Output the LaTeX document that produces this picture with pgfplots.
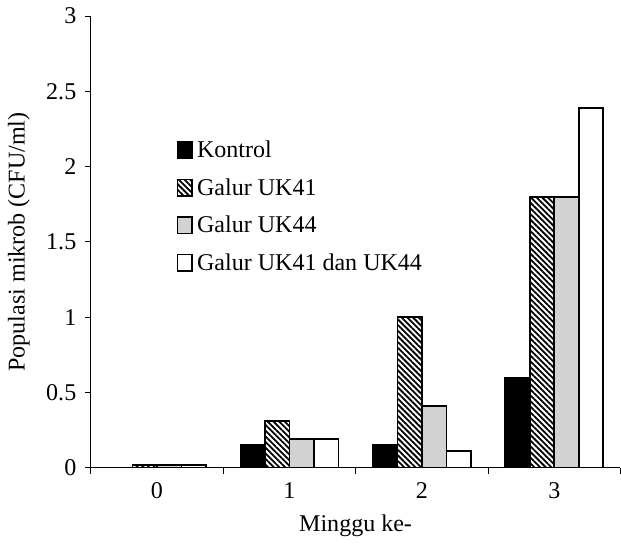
\documentclass[border=0pt]{standalone}
\usepackage{pgfplots}
\pgfplotsset{compat=1.18}
\usetikzlibrary{patterns.meta}
\usepackage{fontspec}
\setmainfont{Liberation Serif}
\begin{document}
\fontsize{12}{14}\selectfont
\begin{tikzpicture}
\begin{axis}[
  width=264.5pt, height=225.5pt, scale only axis,
  xmin=-0.5, xmax=3.5, ymin=0, ymax=3,
  axis x line*=bottom, axis y line*=left,
  axis line style={line width=0.5pt},
  ytick={0,0.5,1,1.5,2,2.5,3},
  xtick={-0.5,0.5,1.5,2.5,3.5}, xticklabels={0,1,2,3},
  x tick label as interval,
  tick align=outside, major tick length=3pt,
  tick style={black, line width=0.5pt},
  ybar=0pt, bar width=0.185,
  xlabel={Minggu ke-}, ylabel={Populasi mikrob (CFU/ml)},
  /pgf/number format/assume math mode=true,
  ticklabel style={font=\fontsize{12}{14}\selectfont},
  label style={font=\fontsize{12}{14}\selectfont},
  legend style={draw=none, fill=none, at={(0.15,0.742)}, anchor=north west,
    font=\fontsize{12}{14}\selectfont, row sep=4.6pt},
  legend cell align=left,
  legend image code/.code={\draw[#1] (0pt,-0.3em) rectangle (0.62em,0.38em);},
]
\addplot[draw=black, line width=0.8pt, fill=black] coordinates {(0,0) (1,0.15) (2,0.15) (3,0.6)};
\addplot[draw=black, line width=0.8pt, pattern={Lines[angle=-45,distance=2pt,line width=0.9pt]}, pattern color=black] coordinates {(0,0.02) (1,0.31) (2,1.0) (3,1.8)};
\addplot[draw=black, line width=0.8pt, fill=gray!35] coordinates {(0,0.02) (1,0.19) (2,0.41) (3,1.8)};
\addplot[draw=black, line width=0.8pt, fill=white] coordinates {(0,0.02) (1,0.19) (2,0.11) (3,2.39)};
\legend{Kontrol, Galur UK41, Galur UK44, Galur UK41 dan UK44}
\end{axis}
\end{tikzpicture}
\end{document}
